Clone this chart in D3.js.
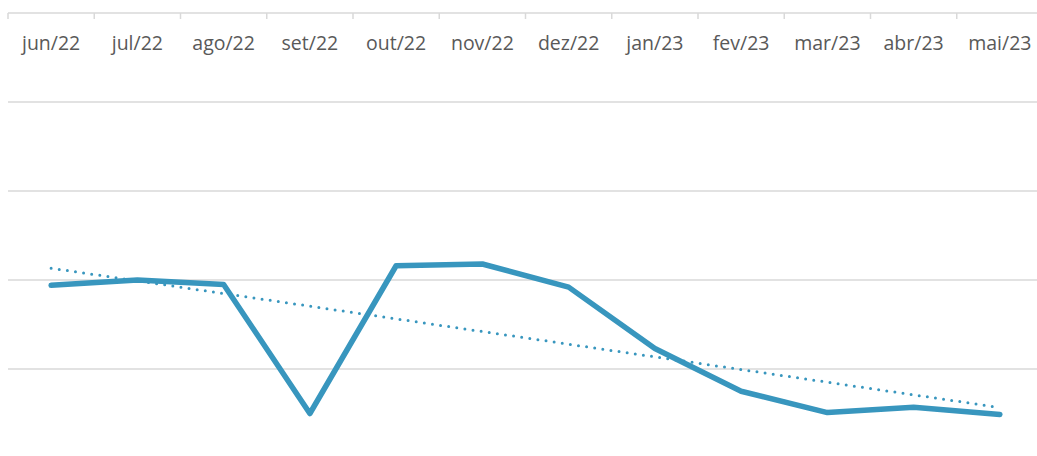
<!DOCTYPE html>
<html>
<head>
<meta charset="utf-8">
<style>
  body { margin: 0; background: #fff; }
  svg { display: block; }
</style>
</head>
<body>
<svg width="1037" height="456"></svg>
<script src="https://d3js.org/d3.v7.min.js"></script>
<script>

  var months = ["jun/22", "jul/22", "ago/22", "set/22", "out/22", "nov/22", "dez/22",
                "jan/23", "fev/23", "mar/23", "abr/23", "mai/23"];
  var values = [-3.06, -3.0, -3.05, -4.5, -2.84, -2.82, -3.08, -3.77, -4.25, -4.49, -4.43, -4.51];
  var gridValues = [0, -1, -2, -3, -4, -5];

  var svg = d3.select("svg"),
    margin = {top: 13, right: -6, bottom: -2, left: 8},
    width = +svg.attr("width") - margin.left - margin.right,
    height = +svg.attr("height") - margin.top - margin.bottom,
    g = svg.append("g").attr("transform", "translate(" + margin.left + "," + margin.top + ")");

  var x = d3.scaleBand().domain(months).range([0, width]);
  var y = d3.scaleLinear().domain([-5, 0]).range([height, 0]);

  // horizontal gridlines
  g.selectAll(".grid")
    .data(gridValues.filter(function (v) { return v !== 0; }))
    .enter().append("line")
    .attr("x1", 0)
    .attr("x2", width)
    .attr("y1", function (d) { return y(d); })
    .attr("y2", function (d) { return y(d); })
    .attr("stroke", "#d9d9d9")
    .attr("stroke-width", 1.5);

  // category axis sits on the zero line, at the top
  var axis = g.append("g").attr("transform", "translate(0," + y(0) + ")");
  axis.append("line")
    .attr("x1", 0).attr("x2", width)
    .attr("stroke", "#d9d9d9").attr("stroke-width", 1.5);
  axis.selectAll(".tick")
    .data(months.concat(["end"]))
    .enter().append("line")
    .attr("x1", function (d, i) { return i * x.step(); })
    .attr("x2", function (d, i) { return i * x.step(); })
    .attr("y1", 0).attr("y2", 6)
    .attr("stroke", "#d9d9d9").attr("stroke-width", 1.5);
  axis.selectAll("text")
    .data(months)
    .enter().append("text")
    .attr("x", function (d) { return x(d) + x.bandwidth() / 2; })
    .attr("y", 37)
    .attr("text-anchor", "middle")
    .attr("fill", "#595959")
    .style("font-family", "'Open Sans', sans-serif")
    .style("font-size", "19.5px")
    .text(function (d) { return d; });

  var cx = function (d, i) { return x(months[i]) + x.bandwidth() / 2; };

  // linear trend line (least squares over month index)
  var n = values.length,
    mx = d3.mean(values, function (d, i) { return i; }),
    my = d3.mean(values),
    sxy = d3.sum(values, function (d, i) { return (i - mx) * (d - my); }),
    sxx = d3.sum(values, function (d, i) { return (i - mx) * (i - mx); }),
    slope = sxy / sxx,
    intercept = my - slope * mx;

  g.append("line")
    .attr("x1", cx(null, 0))
    .attr("x2", cx(null, n - 1))
    .attr("y1", y(intercept))
    .attr("y2", y(intercept + slope * (n - 1)))
    .attr("stroke", "#3896be")
    .attr("stroke-width", 3)
    .attr("stroke-linecap", "round")
    .attr("stroke-dasharray", "0 8.2");

  var line = d3.line()
    .x(cx)
    .y(function (d) { return y(d); });

  g.append("path")
    .datum(values)
    .attr("fill", "none")
    .attr("stroke", "#3896be")
    .attr("stroke-width", 5.5)
    .attr("stroke-linejoin", "round")
    .attr("stroke-linecap", "round")
    .attr("d", line);

</script>
</body>
</html>
